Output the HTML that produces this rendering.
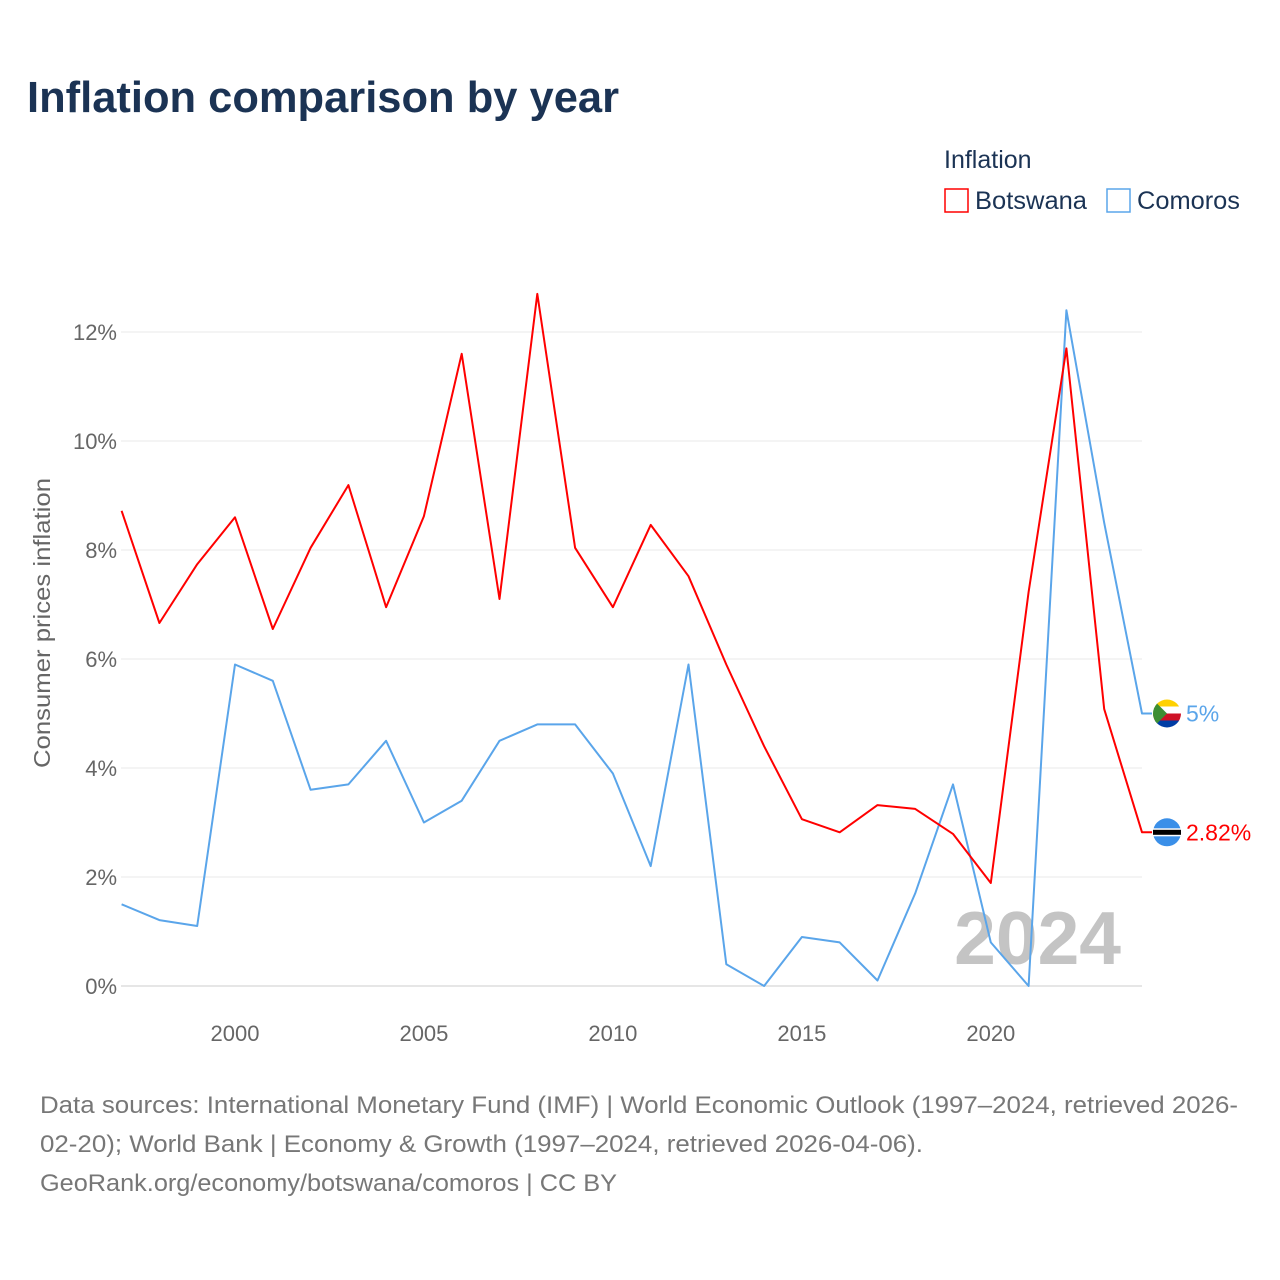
<!DOCTYPE html>
<html><head><meta charset="utf-8"><style>
body{margin:0;background:#fff;font-family:"Liberation Sans",sans-serif;}
#wrap{position:relative;width:1280px;height:1280px;overflow:hidden;}
</style></head><body>
<div id="wrap">
<svg id="chart" width="1280" height="1280">
<text x="27" y="112" font-size="44" font-weight="bold" fill="#1b3354" textLength="592" lengthAdjust="spacingAndGlyphs">Inflation comparison by year</text>
<g>
<text x="944" y="168" font-size="25" fill="#1b3354">Inflation</text>
<g><rect x="945" y="189" width="23" height="23" fill="none" stroke="#ff0000" stroke-width="1.5"/><text x="975" y="209" font-size="25" fill="#1b3354" textLength="112" lengthAdjust="spacingAndGlyphs">Botswana</text></g>
<g><rect x="1107" y="189" width="23" height="23" fill="none" stroke="#5aa5ea" stroke-width="1.5"/><text x="1137" y="209" font-size="25" fill="#1b3354" textLength="103" lengthAdjust="spacingAndGlyphs">Comoros</text></g>
</g>
<g id="grid"></g>
<text x="1121" y="964" font-size="75" font-weight="bold" fill="#c4c4c4" text-anchor="end">2024</text>
<g id="series"></g>
<text transform="translate(50,623) rotate(-90)" font-size="23" fill="#666" text-anchor="middle" textLength="290" lengthAdjust="spacingAndGlyphs">Consumer prices inflation</text>
<g font-size="24" fill="#777">
<text x="40" y="1113" textLength="1198" lengthAdjust="spacingAndGlyphs">Data sources: International Monetary Fund (IMF) | World Economic Outlook (1997–2024, retrieved 2026-</text>
<text x="40" y="1152" textLength="883" lengthAdjust="spacingAndGlyphs">02-20); World Bank | Economy &amp; Growth (1997–2024, retrieved 2026-04-06).</text>
<text x="40" y="1191" textLength="577" lengthAdjust="spacingAndGlyphs">GeoRank.org/economy/botswana/comoros | CC BY</text>
</g>
</svg>
</div>
<script>
const years=[1997,1998,1999,2000,2001,2002,2003,2004,2005,2006,2007,2008,2009,2010,2011,2012,2013,2014,2015,2016,2017,2018,2019,2020,2021,2022,2023,2024];
const botswana=[8.72,6.66,7.74,8.6,6.55,8.04,9.19,6.95,8.62,11.6,7.1,12.7,8.04,6.95,8.46,7.52,5.9,4.4,3.06,2.82,3.32,3.25,2.79,1.89,7.23,11.7,5.08,2.82];
const comoros=[1.5,1.21,1.1,5.9,5.6,3.6,3.7,4.5,3.0,3.4,4.5,4.8,4.8,3.9,2.2,5.9,0.4,0,0.9,0.8,0.1,1.7,3.7,0.8,0,12.4,8.5,5.0];
const yTicks=[0,2,4,6,8,10,12];
const xTicks=[2000,2005,2010,2015,2020];
const NS="http://www.w3.org/2000/svg";
const x=v=>121.6+(v-1997)*(1142-121.6)/27;
const y=v=>986-v*54.5;
const grid=document.getElementById('grid'),series=document.getElementById('series');
function mk(t,a,p){const e=document.createElementNS(NS,t);for(const k in a)e.setAttribute(k,a[k]);p.appendChild(e);return e;}
yTicks.forEach(t=>{
 const l=mk('line',{x1:121,x2:1142,y1:y(t),y2:y(t),stroke:t===0?'#ccc':'#e8e8e8','stroke-width':1},grid);
 
 
 const tx=mk('text',{x:117,y:y(t)+8,'font-size':22,fill:'#666','text-anchor':'end'},grid);
 tx.textContent=t+'%';
 
 
});
xTicks.forEach(t=>{
 const tx=mk('text',{x:x(t),y:1041,'font-size':22,fill:'#666','text-anchor':'middle'},grid);
 tx.textContent=t;
 
 
});
function line(vals,color,name){
 let d=vals.map((v,i)=>(i?'L':'M')+x(years[i]).toFixed(1)+','+y(v).toFixed(1)).join(' ');
 d+=' L1152,'+y(vals[vals.length-1]).toFixed(1);
 const p=mk('path',{d:d,fill:'none',stroke:color,'stroke-width':2,'stroke-linejoin':'round'},series);
 
 
}
line(comoros,'#5aa5ea','comoros-line');
line(botswana,'#ff0000','botswana-line');
const cy=y(comoros[comoros.length-1]),by=y(botswana[botswana.length-1]);
const fc=mk('g',{},series);


mk('clipPath',{id:'cc'},fc).appendChild(document.createElementNS(NS,'circle'));
const ccirc=fc.querySelector('clipPath circle');ccirc.setAttribute('cx',1167);ccirc.setAttribute('cy',cy);ccirc.setAttribute('r',14);
const gc=mk('g',{'clip-path':'url(#cc)'},fc);
mk('rect',{x:1153,y:cy-14,width:28,height:7,fill:'#ffd100'},gc);
mk('rect',{x:1153,y:cy-7,width:28,height:7,fill:'#fff'},gc);
mk('rect',{x:1153,y:cy,width:28,height:7,fill:'#ce1126'},gc);
mk('rect',{x:1153,y:cy+7,width:28,height:7,fill:'#003da5'},gc);
mk('polygon',{points:`1153,${cy-14} 1167,${cy} 1153,${cy+14}`,fill:'#3d8e33'},gc);
const fb=mk('g',{},series);


mk('circle',{cx:1167,cy:by,r:14,fill:'#3a8fe8'},fb);
mk('rect',{x:1153,y:by-4,width:28,height:8,fill:'#fff'},fb);
mk('rect',{x:1153,y:by-2.5,width:28,height:5,fill:'#000'},fb);
const lc=mk('text',{x:1186,y:cy+8,'font-size':23,fill:'#5aa5ea'},series);
lc.textContent=comoros[comoros.length-1]+'%';


const lb=mk('text',{x:1186,y:by+8,'font-size':23,fill:'#ff0000'},series);
lb.textContent=botswana[botswana.length-1]+'%';


</script>
</body></html>
